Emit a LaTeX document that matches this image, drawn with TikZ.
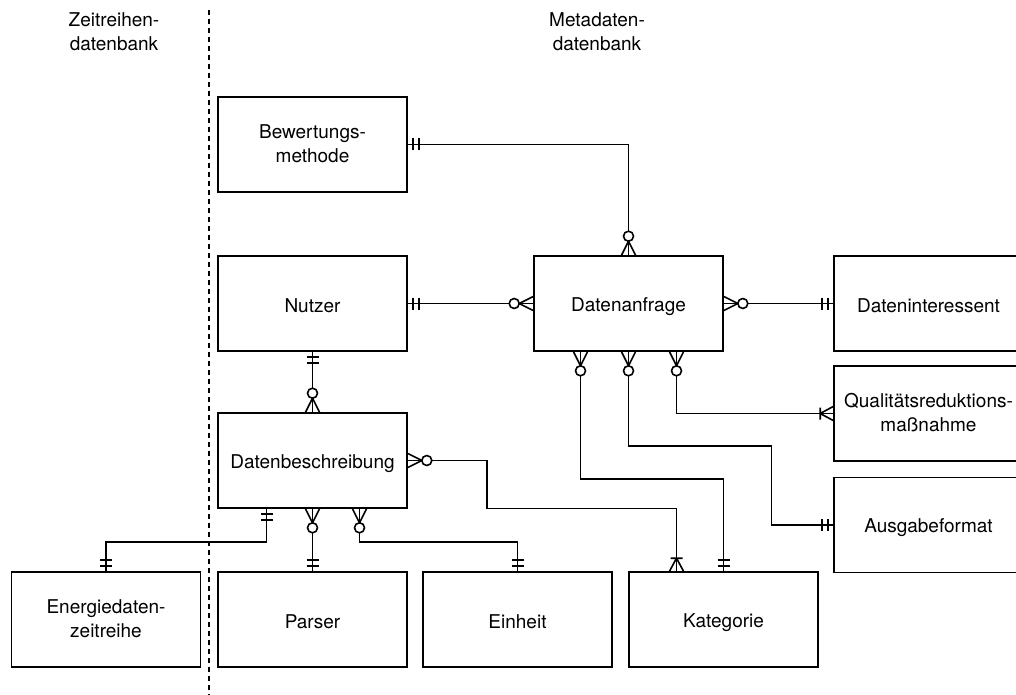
\documentclass[tikz,border=0pt]{standalone}
\usepackage{fontspec}
\setmainfont{TeX Gyre Heros}
\usetikzlibrary{calc}

\newcommand{\erstrut}{\rule[-2pt]{0pt}{21.6pt}}

\tikzset{
    entity/.style={draw, line width=1.6pt, minimum width=189pt, minimum height=95pt,
        inner sep=0pt, align=center, font=\fontsize{19}{24}\selectfont,
        execute at begin node=\erstrut, execute at end node=\erstrut},
    header/.style={align=center, font=\fontsize{19}{24}\selectfont},
    conn/.style={line width=1.8pt},
    mandone/.pic={\draw[line width=1.6pt] (5,-6) -- (5,6) (11,-6) -- (11,6);},
    zeromany/.pic={\draw[line width=1.6pt] (0,-7) -- (14,0) -- (0,7);
        \draw[line width=1.6pt, fill=white] (19,0) circle (5pt);},
    onemany/.pic={\draw[line width=1.6pt] (0,-7) -- (13,0) -- (0,7) (13,-6) -- (13,6);}
}

\begin{document}
\begin{tikzpicture}[x=1pt, y=-1pt]
        \useasboundingbox (0,0) rectangle (1016,695);

        \node[header] (zeit) at (114,32) {Zeitreihen-\\datenbank};
        \node[header] (meta) at (597,32) {Metadaten-\\datenbank};
        \draw[line width=1.3pt, dash pattern=on 5pt off 4pt] (209,10) -- (209,695);

        \node[entity] (bewert) at (312.5,144.5) {Bewertungs-\\methode};
        \node[entity] (nutzer) at (312.5,303.5) {Nutzer};
        \node[entity] (anfrage) at (628.5,303.5) {Datenanfrage};
        \node[entity] (interess) at (928.5,303.5) {Dateninteressent};
        \node[entity] (qual) at (928.5,413.5) {Qualitätsreduktions-\\maßnahme};
        \node[entity] (ausgabe) at (928.5,525) {Ausgabeformat};
        \node[entity] (beschr) at (312.5,460.5) {Datenbeschreibung};
        \node[entity] (energie) at (106,619.5) {Energiedaten-\\zeitreihe};
        \node[entity] (parser) at (312.5,619.5) {Parser};
        \node[entity] (einheit) at (517.5,619.5) {Einheit};
        \node[entity] (kateg) at (723.5,619.5) {Kategorie};

        \draw[conn] (bewert.east) -| (anfrage.north);
        \draw[conn] (nutzer.east) -- (anfrage.west);
        \draw[conn] (anfrage.east) -- (interess.west);
        \draw[conn] ([xshift=-48pt]anfrage.south) -- ++(0,127) -| (kateg.north);
        \draw[conn] (anfrage.south) -- ++(0,94) -- ++(143,0) |- (ausgabe.west);
        \draw[conn] ([xshift=48pt]anfrage.south) |- (qual.west);
        \draw[conn] (nutzer.south) -- (beschr.north);
        \draw[conn] (beschr.east) -- ++(79,0) -- ++(0,48) -| ([xshift=-47pt]kateg.north);
        \draw[conn] ([xshift=-46pt]beschr.south) -- ++(0,33) -| (energie.north);
        \draw[conn] (beschr.south) -- (parser.north);
        \draw[conn] ([xshift=47pt]beschr.south) -- ++(0,33) -| (einheit.north);

        \pic at (bewert.east) {mandone};
        \pic[rotate=90] at (anfrage.north) {zeromany};
        \pic at (nutzer.east) {mandone};
        \pic[rotate=180] at (anfrage.west) {zeromany};
        \pic at (anfrage.east) {zeromany};
        \pic[rotate=180] at (interess.west) {mandone};
        \pic[rotate=-90] at ([xshift=-48pt]anfrage.south) {zeromany};
        \pic[rotate=-90] at (anfrage.south) {zeromany};
        \pic[rotate=-90] at ([xshift=48pt]anfrage.south) {zeromany};
        \pic[rotate=180] at (qual.west) {onemany};
        \pic[rotate=180] at (ausgabe.west) {mandone};
        \pic[rotate=90] at (kateg.north) {mandone};
        \pic[rotate=90] at ([xshift=-47pt]kateg.north) {onemany};
        \pic[rotate=-90] at (nutzer.south) {mandone};
        \pic[rotate=90] at (beschr.north) {zeromany};
        \pic at (beschr.east) {zeromany};
        \pic[rotate=-90] at ([xshift=-46pt]beschr.south) {mandone};
        \pic[rotate=-90] at (beschr.south) {zeromany};
        \pic[rotate=-90] at ([xshift=47pt]beschr.south) {zeromany};
        \pic[rotate=90] at (energie.north) {mandone};
        \pic[rotate=90] at (parser.north) {mandone};
        \pic[rotate=90] at (einheit.north) {mandone};
\end{tikzpicture}
\end{document}
